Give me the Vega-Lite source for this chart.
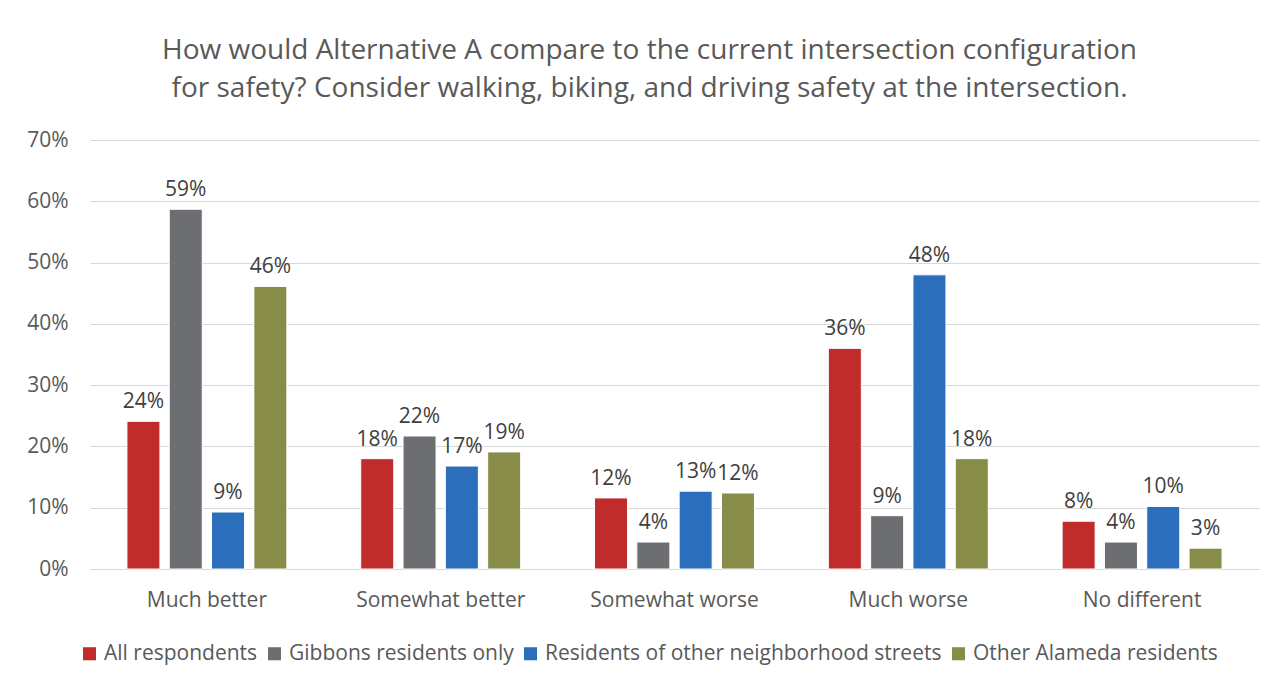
{
  "$schema": "https://vega.github.io/schema/vega-lite/v6.json",
  "width": 1169,
  "height": 429,
  "autosize": {"type": "none"},
  "padding": {"left": 90, "top": 140, "right": 27, "bottom": 115},
  "background": "white",
  "config": {
    "view": {"stroke": null},
    "font": "Open Sans",
    "text": {"font": "Open Sans"}
  },
  "title": {
    "text": ["How would Alternative A compare to the current intersection configuration", "for safety? Consider walking, biking, and driving safety at the intersection."],
    "font": "Open Sans",
    "fontSize": 28,
    "fontWeight": "normal",
    "color": "#595959",
    "anchor": "middle",
    "dx": -25,
    "offset": 26,
    "lineHeight": 38
  },
  "data": {
    "values": [
      {"response": "Much better", "group": "All respondents", "value": 0.241},
      {"response": "Much better", "group": "Gibbons residents only", "value": 0.587},
      {"response": "Much better", "group": "Residents of other neighborhood streets", "value": 0.093},
      {"response": "Much better", "group": "Other Alameda residents", "value": 0.461},
      {"response": "Somewhat better", "group": "All respondents", "value": 0.18},
      {"response": "Somewhat better", "group": "Gibbons residents only", "value": 0.217},
      {"response": "Somewhat better", "group": "Residents of other neighborhood streets", "value": 0.168},
      {"response": "Somewhat better", "group": "Other Alameda residents", "value": 0.191},
      {"response": "Somewhat worse", "group": "All respondents", "value": 0.116},
      {"response": "Somewhat worse", "group": "Gibbons residents only", "value": 0.044},
      {"response": "Somewhat worse", "group": "Residents of other neighborhood streets", "value": 0.127},
      {"response": "Somewhat worse", "group": "Other Alameda residents", "value": 0.124},
      {"response": "Much worse", "group": "All respondents", "value": 0.36},
      {"response": "Much worse", "group": "Gibbons residents only", "value": 0.087},
      {"response": "Much worse", "group": "Residents of other neighborhood streets", "value": 0.48},
      {"response": "Much worse", "group": "Other Alameda residents", "value": 0.18},
      {"response": "No different", "group": "All respondents", "value": 0.078},
      {"response": "No different", "group": "Gibbons residents only", "value": 0.044},
      {"response": "No different", "group": "Residents of other neighborhood streets", "value": 0.102},
      {"response": "No different", "group": "Other Alameda residents", "value": 0.034}
    ]
  },
  "encoding": {
    "x": {
      "field": "response",
      "type": "nominal",
      "sort": ["Much better", "Somewhat better", "Somewhat worse", "Much worse", "No different"],
      "scale": {"paddingInner": 0.316, "paddingOuter": 0.158},
      "axis": {
        "title": null,
        "labelAngle": 0,
        "labelFontSize": 21,
        "labelColor": "#595959",
        "labelFont": "Open Sans",
        "labelPadding": 20,
        "ticks": false,
        "domainColor": "#D9D9D9",
        "domainWidth": 1
      }
    },
    "xOffset": {
      "field": "group",
      "type": "nominal",
      "sort": ["All respondents", "Gibbons residents only", "Residents of other neighborhood streets", "Other Alameda residents"],
      "scale": {"paddingInner": 0.22, "paddingOuter": 0}
    },
    "y": {
      "field": "value",
      "type": "quantitative",
      "scale": {"domain": [0, 0.7], "nice": false},
      "axis": {
        "title": null,
        "format": ".0%",
        "values": [0, 0.1, 0.2, 0.3, 0.4, 0.5, 0.6, 0.7],
        "labelFontSize": 21,
        "labelColor": "#595959",
        "labelFont": "Open Sans",
        "labelPadding": 22,
        "ticks": false,
        "domain": false,
        "gridColor": "#D9D9D9",
        "gridWidth": 1
      }
    }
  },
  "layer": [
    {
      "mark": {"type": "bar", "stroke": "white", "strokeWidth": 1},
      "encoding": {
        "color": {
          "field": "group",
          "type": "nominal",
          "sort": ["All respondents", "Gibbons residents only", "Residents of other neighborhood streets", "Other Alameda residents"],
          "scale": {
            "domain": ["All respondents", "Gibbons residents only", "Residents of other neighborhood streets", "Other Alameda residents"],
            "range": ["#C02B2B", "#6D6E71", "#2B6EBB", "#878C49"]
          },
          "legend": {
            "title": null,
            "orient": "none",
            "direction": "horizontal",
            "legendX": -11,
            "legendY": 503,
            "symbolType": "square",
            "symbolSize": 170,
            "symbolStrokeWidth": 0,
            "labelFontSize": 21,
            "labelColor": "#595959",
            "labelFont": "Open Sans",
            "labelOffset": 4,
            "columnPadding": 6,
            "labelLimit": 600
          }
        }
      }
    },
    {
      "mark": {"type": "text", "baseline": "bottom", "dy": -9, "fontSize": 21, "color": "#404040", "font": "Open Sans"},
      "encoding": {
        "text": {"field": "value", "type": "quantitative", "format": ".0%"}
      }
    }
  ]
}
